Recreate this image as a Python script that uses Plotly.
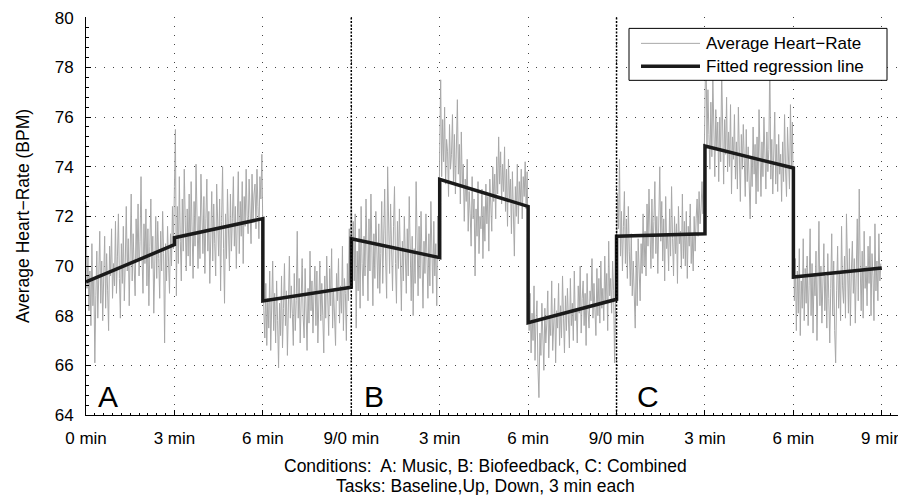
import numpy as np
import plotly.graph_objects as go

# ---------------- data ----------------
tick_vals = [0, 3, 6, 9, 12, 15, 18, 21, 24, 27]
tick_text = ["0 min", "3 min", "6 min", "9/0 min", "3 min", "6 min",
             "9/0 min", "3 min", "6 min", "9 min"]
condition_bounds = [9, 18]
condition_labels = ["A", "B", "C"]
condition_label_x = [0.33, 9.38, 18.62]

sample_step_min = 2 / 60  # one reading every 2 s

hr_A = [
    72.6, 69.1, 70.4, 68.2, 69.8, 67.6, 70.9, 68.4, 69.5, 66.1, 68.8, 70.6, 67.9, 69.3, 71.4,
    68.5, 70.2, 67.8, 69.7, 71.2, 68.3, 70.5, 69.0, 67.4, 70.8, 69.6, 71.5, 68.7, 70.1, 69.2,
    71.8, 68.9, 70.4, 72.1, 69.5, 67.9, 70.9, 69.3, 71.6, 68.6, 70.2, 72.4, 69.8, 71.1, 68.4,
    70.7, 72.9, 69.4, 71.3, 70.0, 68.8, 71.9, 70.3, 72.5, 69.6, 71.0, 73.6, 70.4, 68.9, 71.7,
    70.1, 72.3, 69.2, 71.5, 68.4, 70.8, 72.7, 69.9, 71.2, 68.1, 70.6, 72.0, 69.5, 71.8, 70.3,
    68.7, 71.4, 69.8, 72.2, 70.5, 66.9, 70.9, 69.4, 71.6, 70.2, 68.9, 71.3, 70.0, 72.4, 70.7,
    73.2, 75.5, 68.8, 72.4, 70.1, 73.6, 71.0, 69.4, 72.7, 70.6, 73.9, 71.5, 69.8, 72.3, 70.4,
    72.9, 70.0, 73.4, 71.2, 69.5, 72.6, 70.8, 74.1, 71.4, 69.9, 72.0, 70.3, 73.7, 71.8, 70.5,
    72.8, 69.7, 71.9, 73.5, 70.6, 72.2, 69.3, 71.6, 73.0, 70.2, 72.5, 70.9, 69.6, 73.3, 71.1,
    70.4, 72.7, 69.0, 71.8, 74.0, 70.7, 68.5, 72.1, 70.3, 73.1, 71.5, 69.8, 72.9, 70.6, 71.9,
    73.6, 70.8, 72.4, 69.9, 71.7, 73.8, 70.5, 72.6, 71.2, 73.4, 70.1, 72.8, 71.6, 73.9, 72.0,
    71.3, 73.5, 72.2, 70.9, 73.7, 71.8, 72.9, 73.3, 71.5, 73.9, 72.4, 71.1, 73.6, 72.7, 74.5,
    70.9, 68.2, 67.1, 69.3, 66.8, 68.7, 67.5, 69.8, 66.6, 68.1, 70.2, 67.4, 68.9, 66.9, 69.4,
    67.8, 65.9, 68.5, 67.2, 69.6, 66.7, 68.3, 70.1, 67.6, 69.0, 66.4, 68.8, 70.4, 67.9, 69.2,
    68.1, 66.8, 69.7, 67.4, 68.6, 71.4, 67.9, 69.5, 66.9, 68.4, 70.3, 68.0, 67.1, 69.9, 68.3,
    66.6, 69.1, 67.7, 70.6, 68.2, 69.4, 67.3, 68.9, 70.0, 67.6, 69.8, 66.9, 68.5, 70.2, 67.8,
    69.3, 68.0, 66.5, 69.6, 67.9, 70.4, 68.7, 67.2, 69.9, 68.4, 70.7, 67.5, 69.1, 68.2, 66.8,
    69.7, 68.6, 70.3, 67.7, 69.2, 68.1, 70.8, 67.4, 69.5, 68.9, 67.0, 70.1, 68.6, 71.5, 69.3,
]

hr_B = [
    73.3, 70.2, 71.8, 69.4, 72.1, 67.5, 70.6, 69.0, 71.5, 68.3, 72.4, 70.1, 68.8, 71.2, 69.6,
    72.7, 70.4, 68.6, 71.9, 69.8, 72.9, 70.0, 68.4, 71.3, 69.5, 72.2, 70.7, 69.1, 71.7, 68.9,
    70.5, 72.6, 69.3, 71.1, 73.1, 70.2, 68.7, 74.0, 71.4, 69.7, 72.5, 70.8, 69.0, 71.6, 73.2,
    70.1, 68.5, 71.8, 69.9, 72.3, 70.6, 68.2, 71.0, 69.4, 72.0, 70.3, 68.9, 71.5, 69.6, 72.8,
    70.0, 68.6, 71.2, 68.0, 70.7, 69.3, 73.4, 70.1, 68.8, 71.6, 69.5, 72.2, 70.4, 68.3, 71.0,
    69.7, 72.1, 70.5, 68.7, 71.3, 69.2, 72.6, 70.0, 68.9, 71.8, 69.6, 70.9, 68.4, 72.0, 70.6,
    74.8, 77.5, 73.6, 75.9, 74.2, 76.4, 73.3, 75.1, 74.6, 72.8, 75.7, 73.9, 74.5, 76.1, 73.4,
    75.3, 72.9, 74.7, 76.7, 73.7, 74.9, 72.5, 75.4, 73.2, 74.1, 71.8, 73.5, 72.6, 74.3, 71.4,
    73.0, 72.1, 70.8, 73.6, 71.9, 72.7, 69.6, 72.3, 71.2, 73.4, 70.5, 72.0, 71.5, 73.1, 70.3,
    72.4, 71.0, 73.3, 71.7, 72.8, 70.6, 73.5, 72.2, 71.4, 74.0, 72.6, 73.7, 71.9, 74.4, 72.9,
    75.2, 73.3, 74.6, 72.5, 74.1, 73.0, 74.8, 72.2, 73.9, 71.6, 74.3, 72.7, 73.5, 71.3, 73.8,
    72.4, 70.4, 73.2, 72.0, 74.1, 71.7, 73.4, 72.5, 73.9, 71.9, 73.6, 72.8, 74.2, 72.3, 73.8,
    69.8, 67.4, 68.9, 66.5, 68.1, 67.0, 69.2, 66.2, 67.8, 68.6, 65.9, 64.7, 67.3, 66.4, 68.5,
    67.1, 65.8, 68.3, 66.9, 67.7, 69.0, 66.3, 68.0, 67.2, 69.4, 66.6, 67.9, 68.7, 66.1, 68.2,
    67.5, 69.3, 66.8, 68.4, 67.1, 69.6, 67.9, 66.5, 68.8, 67.4, 69.1, 68.0, 66.7, 69.5, 67.6,
    68.5, 67.0, 69.8, 67.8, 68.3, 66.9, 69.2, 68.1, 70.0, 67.3, 68.7, 69.4, 67.6, 68.9, 66.8,
    69.7, 68.2, 67.5, 69.0, 68.6, 70.3, 67.9, 69.3, 68.4, 67.2, 69.9, 68.0, 69.5, 67.7, 70.2,
    68.3, 69.1, 67.8, 70.4, 68.6, 69.7, 67.4, 71.0, 68.8, 69.5, 68.1, 70.2, 69.0, 66.1, 69.6,
]

hr_C = [
    70.8, 72.9, 71.5, 74.3, 70.4, 72.2, 69.8, 71.6, 73.0, 70.1, 71.9, 69.5, 72.4, 70.6, 69.2,
    71.3, 68.8, 70.2, 69.0, 67.5, 70.6, 68.4, 71.1, 69.3, 68.6, 70.9, 69.7, 72.1, 70.0, 71.4,
    69.6, 72.5, 70.8, 73.1, 71.2, 69.9, 72.7, 70.3, 71.8, 73.4, 70.5, 72.0, 69.7, 71.5, 74.0,
    71.0, 72.6, 70.2, 71.9, 69.4, 72.8, 70.7, 71.3, 69.8, 72.3, 70.4, 73.2, 71.1, 69.6, 72.0,
    70.5, 71.7, 69.3, 72.4, 70.9, 71.4, 69.9, 72.9, 70.3, 71.8, 70.0, 72.2, 69.5, 71.6, 70.8,
    72.5, 70.1, 71.3, 69.8, 72.0, 70.6, 71.9, 72.7, 71.2, 73.0, 71.7, 72.3, 73.4, 72.1, 73.8,
    76.2, 79.3, 74.8, 77.1, 75.3, 73.9, 76.6, 74.4, 77.6, 75.0, 73.6, 76.3, 74.7, 75.8, 73.4,
    76.0, 74.2, 77.9, 75.1, 73.3, 75.9, 74.5, 76.8, 73.8, 75.4, 74.0, 76.5, 72.9, 75.2, 74.3,
    76.1, 73.5, 75.0, 73.1, 76.4, 74.6, 72.6, 75.3, 73.9, 75.7, 74.1, 72.8, 75.5, 73.4, 74.8,
    72.7, 71.9, 74.4, 73.2, 75.6, 73.7, 74.9, 72.5, 75.2, 73.0, 76.3, 74.2, 72.8, 75.0, 73.6,
    76.0, 74.3, 73.1, 75.4, 73.8, 74.7, 78.4, 73.5, 75.1, 72.9, 74.6, 76.2, 73.3, 74.9, 73.0,
    75.3, 73.7, 74.5, 72.6, 75.0, 73.4, 76.1, 73.9, 72.8, 75.6, 74.2, 73.1, 76.5, 74.0, 75.8,
    71.2, 68.6, 70.3, 67.4, 69.8, 68.1, 70.7, 67.2, 69.4, 68.3, 71.1, 67.8, 69.9, 68.5, 70.4,
    67.6, 69.2, 71.5, 68.0, 70.1, 67.3, 69.7, 68.8, 70.6, 67.0, 69.5, 71.8, 68.4, 70.0, 67.7,
    69.3, 70.9, 68.2, 69.6, 67.5, 70.5, 68.7, 66.9, 69.1, 71.3, 68.0, 70.2, 67.4, 66.1, 69.0,
    70.8, 68.3, 69.7, 67.8, 71.6, 69.2, 68.5, 70.4, 67.9, 72.1, 69.4, 68.1, 70.7, 67.6, 69.8,
    71.0, 68.9, 70.3, 67.7, 69.5, 71.9, 68.6, 73.1, 69.9, 68.2, 70.6, 67.9, 71.4, 69.1, 70.0,
    68.4, 70.8, 69.3, 71.2, 68.0, 70.5, 69.6, 67.8, 71.7, 69.0, 70.2, 68.6, 71.3, 69.4, 70.1,
]

# fitted regression: one segment per 3-min task block
reg_block_start = [0, 3, 6, 9, 12, 15, 18, 21, 24]
reg_start = [69.36, 71.14, 68.59, 71.10, 73.49, 67.72, 71.20, 74.83, 69.56]
reg_end = [70.86, 71.91, 69.15, 70.34, 72.40, 68.66, 71.30, 73.95, 69.92]
block_len = 3

# ---------------- build ----------------
hr_all = hr_A + hr_B + hr_C
t_all = np.arange(len(hr_all)) * sample_step_min

reg_x, reg_y = [], []
for s, y0, y1 in zip(reg_block_start, reg_start, reg_end):
    reg_x += [s, s + block_len]
    reg_y += [y0, y1]

FONT = "Liberation Sans, Arial, Helvetica, sans-serif"
fig = go.Figure()
fig.add_trace(go.Scatter(x=t_all, y=hr_all, mode="lines", name="Average Heart\u2212Rate",
                         line=dict(color="#a8a8a8", width=1), showlegend=False))
fig.add_trace(go.Scatter(x=reg_x, y=reg_y, mode="lines", name="Fitted regression line",
                         line=dict(color="#1a1a1a", width=3.5), showlegend=False))

shapes = []
for b in condition_bounds:
    shapes.append(dict(type="line", xref="x", yref="paper", x0=b, x1=b, y0=0, y1=1,
                       line=dict(color="black", width=1.5, dash="2px,1.5px"), layer="above"))

# page body has an 8px margin: figure is sized/offset to compensate
OFF = 8
W_SCREEN, H_SCREEN = 906, 495
L_S, R_S, T_S, B_S = 86, 906, 16.6, 415  # plot area in screen pixels


def px(xs):
    return (xs - L_S) / (R_S - L_S)


def py(ys):
    return (B_S - ys) / (B_S - T_S)


shapes.append(dict(type="rect", xref="paper", yref="paper", x0=px(629), x1=px(887),
                   y0=py(80), y1=py(28), fillcolor="white", line=dict(color="black", width=1),
                   layer="above"))
shapes.append(dict(type="line", xref="paper", yref="paper", x0=px(641), x1=px(700),
                   y0=py(43), y1=py(43), line=dict(color="#a8a8a8", width=1), layer="above"))
shapes.append(dict(type="line", xref="paper", yref="paper", x0=px(641), x1=px(700),
                   y0=py(66), y1=py(66), line=dict(color="#1a1a1a", width=3.5), layer="above"))

annotations = [
    dict(xref="paper", yref="paper", x=px(704), y=py(43), text="Average Heart\u2212Rate",
         showarrow=False, xanchor="left", yanchor="middle", font=dict(size=17, color="black")),
    dict(xref="paper", yref="paper", x=px(704), y=py(66), text="Fitted regression line",
         showarrow=False, xanchor="left", yanchor="middle", font=dict(size=17, color="black")),
    dict(xref="paper", yref="paper", x=px(485), y=py(466),
         text="Conditions:  A: Music, B: Biofeedback, C: Combined",
         showarrow=False, xanchor="center", yanchor="middle", font=dict(size=17.5, color="black")),
    dict(xref="paper", yref="paper", x=px(485), y=py(486),
         text="Tasks: Baseline,Up, Down, 3 min each",
         showarrow=False, xanchor="center", yanchor="middle", font=dict(size=17.5, color="black")),
]
for lab, lx in zip(condition_labels, condition_label_x):
    annotations.append(dict(xref="x", yref="y", x=lx, y=64.0, text=lab, showarrow=False,
                            xanchor="left", yanchor="bottom", font=dict(size=30, color="black")))

axis_common = dict(showline=True, linecolor="black", linewidth=1, ticks="inside",
                   ticklen=5, tickcolor="black", showgrid=True, gridcolor="#444444",
                   griddash="1px,8px", gridwidth=1, zeroline=False, automargin=False,
                   ticklabeloverflow="allow",
                   tickfont=dict(size=17, color="black"))

fig.update_layout(
    width=W_SCREEN - OFF, height=H_SCREEN - OFF,
    margin=dict(l=L_S - OFF, r=W_SCREEN - R_S, t=T_S - OFF, b=H_SCREEN - B_S),
    paper_bgcolor="white", plot_bgcolor="white",
    font=dict(family=FONT, color="black"),
    shapes=shapes, annotations=annotations,
    xaxis=dict(range=[0, 27.82], tickvals=tick_vals, ticktext=tick_text, ticklabelstandoff=8,
               minor=dict(dtick=0.3, tick0=0, ticks="inside", ticklen=2.5, tickcolor="black",
                          showgrid=False),
               **axis_common),
    yaxis=dict(range=[64, 80.03], dtick=2, tick0=64, ticklabelstandoff=8,
               title=dict(text="Average Heart\u2212Rate (BPM)", font=dict(size=17.5), standoff=20),
               minor=dict(dtick=0.4, tick0=64, ticks="inside", ticklen=2.5, tickcolor="black",
                          showgrid=False),
               **axis_common),
)

fig.write_html("out.html")
